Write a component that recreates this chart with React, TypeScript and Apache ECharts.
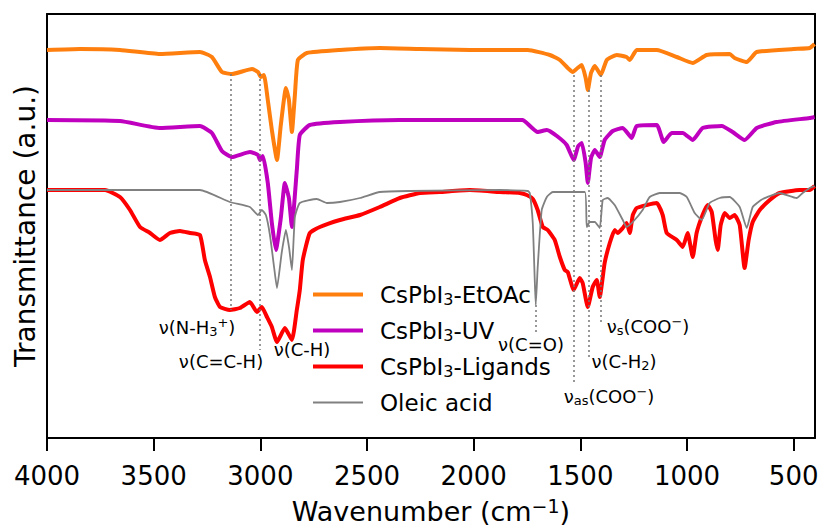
import React, { useEffect, useRef } from "react";
import * as echarts from "echarts";

const xTicks = [500, 1000, 1500, 2000, 2500, 3000, 3500, 4000];

const etoac: number[][] = [
[4000,388],[3845,389],[3658,388],[3471,384],[3283,386],[3227,381],[3180,366],[3133,364],[3039,369],[3011,366],[2997,361],[2983,363],[2965,338],[2946,308],[2922,278],[2904,313],[2880,350],[2866,338],[2852,306],[2838,343],[2824,378],[2782,385],[2627,388],[2440,390],[2252,389],[2018,388],[1878,388],[1746,388],[1643,383],[1596,378],[1559,370],[1535,366],[1513,370],[1493,373],[1475,360],[1465,348],[1450,365],[1432,372],[1404,363],[1376,378],[1329,383],[1283,381],[1268,378],[1236,388],[1142,388],[1048,381],[973,375],[908,383],[800,384],[777,380],[720,376],[673,386],[500,389],[425,390],[402,394]
];

const uv: number[][] = [
[4000,318],[3658,317],[3471,310],[3283,312],[3227,305],[3180,287],[3133,281],[3049,286],[3011,283],[3002,278],[2988,282],[2965,255],[2946,215],[2927,188],[2904,220],[2885,255],[2866,240],[2852,211],[2829,268],[2815,303],[2768,313],[2627,316],[2346,318],[1878,318],[1770,318],[1751,315],[1700,306],[1657,308],[1610,302],[1564,293],[1531,278],[1510,292],[1493,295],[1475,275],[1465,255],[1450,280],[1432,288],[1409,281],[1386,298],[1348,307],[1301,310],[1259,300],[1236,312],[1142,313],[1109,296],[1072,305],[1020,305],[973,298],[927,310],[837,312],[786,306],[730,298],[673,310],[580,316],[425,320],[402,321]
];

const ligands: number[][] = [
[4000,248],[3728,248],[3658,241],[3611,228],[3564,211],[3517,205],[3471,198],[3424,205],[3377,207],[3330,205],[3283,203],[3260,178],[3236,161],[3213,141],[3189,131],[3143,128],[3096,130],[3049,136],[3016,126],[2993,131],[2969,121],[2946,111],[2922,96],[2885,110],[2852,98],[2829,128],[2815,148],[2801,178],[2768,205],[2721,211],[2627,218],[2533,223],[2440,231],[2346,240],[2252,245],[2159,246],[2018,248],[1878,246],[1784,245],[1751,243],[1723,239],[1700,228],[1676,211],[1653,208],[1620,198],[1596,181],[1573,168],[1559,166],[1531,148],[1503,160],[1489,155],[1465,131],[1442,151],[1423,158],[1409,141],[1386,175],[1362,195],[1339,208],[1325,205],[1301,210],[1283,215],[1268,205],[1254,223],[1236,230],[1189,233],[1142,235],[1114,223],[1095,205],[1048,198],[1020,191],[997,205],[973,181],[955,205],[927,223],[903,233],[884,226],[866,198],[856,188],[842,213],[823,225],[800,220],[777,223],[753,213],[730,170],[711,198],[692,216],[659,228],[612,238],[566,245],[472,248],[425,248],[402,252]
];

const oleic: number[][] = [
[4000,248],[3283,248],[3143,236],[3049,231],[3011,223],[2993,228],[2974,223],[2955,203],[2935,170],[2922,150],[2900,185],[2880,208],[2865,190],[2852,168],[2838,221],[2815,235],[2735,239],[2688,235],[2627,236],[2533,240],[2440,246],[2299,247],[1878,248],[1746,247],[1737,245],[1723,215],[1714,160],[1709,133],[1700,170],[1681,228],[1657,241],[1629,246],[1479,246],[1470,211],[1456,216],[1432,216],[1409,210],[1395,238],[1372,240],[1339,233],[1301,218],[1283,211],[1254,216],[1208,228],[1175,241],[1128,245],[1034,245],[1001,241],[964,225],[931,218],[894,235],[847,240],[800,241],[753,231],[720,210],[692,231],[645,239],[566,245],[486,240],[458,245],[425,250],[402,252]
];

// vertical guide lines: [wavenumber, yTop, yBottom]
const guides: number[][] = [
[3140,364,128],[3005,364,88],[1532,363,53],[1461,348,81],[1402,363,116],[1708,133,106]
];

const seriesNames = ["CsPbI3-EtOAc", "CsPbI3-UV", "CsPbI3-Ligands", "Oleic acid"];
const seriesColors = ["#ff7f0e", "#bf00bf", "#ff0000", "#808080"];
const seriesWidths = [4, 4, 4, 1.8];
const legendIcons = [
  "path://M0,0L0.01,0L0,0.01ZM0,5h50v4h-50ZM0,14L0.01,14L0,13.99Z",
  "path://M0,0L0.01,0L0,0.01ZM0,5h50v4h-50ZM0,14L0.01,14L0,13.99Z",
  "path://M0,0L0.01,0L0,0.01ZM0,5h50v4h-50ZM0,14L0.01,14L0,13.99Z",
  "path://M0,0L0.01,0L0,0.01ZM0,6.1h50v1.8h-50ZM0,14L0.01,14L0,13.99Z",
];

// annotation labels: [text, x px, y px]
const annotations: [string, number, number][] = [
["ν(N-H{sub|3}{sup|+})", 197, 327],
["ν(C=C-H)", 221, 361],
["ν(C-H)", 302, 349],
["ν(C=O)", 531, 344],
["ν{sub|s}(COO{sup|−})", 648, 326],
["ν(C-H{sub|2})", 624, 361],
["ν{sub|as}(COO{sup|−})", 609, 396],
];

const FONT = "DejaVu Sans";

export default function App() {
  const ref = useRef<HTMLDivElement>(null);
  useEffect(() => {
    document.body.style.margin = "0";
    const chart = echarts.init(ref.current!, null, { renderer: "svg" });
    const datas = [etoac, uv, ligands, oleic];
    const annRich = {
      sub: { fontSize: 13, fontFamily: FONT, padding: [9, 0, 0, 0], fill: "#000" },
      sup: { fontSize: 13, fontFamily: FONT, padding: [0, 0, 9, 0], fill: "#000" },
    };
    const frameAxis = {
      axisLine: { show: true, lineStyle: { color: "#000", width: 2 } },
      axisTick: { show: false }, axisLabel: { show: false }, splitLine: { show: false },
    };
    const option: any = {
      animation: false,
      backgroundColor: "#fff",
      grid: { left: 47, right: 4, top: 14, bottom: 91, show: false, containLabel: false, outerBoundsMode: "none" },
      xAxis: [{
        type: "value", inverse: true, min: 400, max: 4000, position: "bottom",
        axisLine: { show: true, onZero: false, lineStyle: { color: "#000", width: 2 } },
        axisTick: { show: true, length: 13, lineStyle: { color: "#000", width: 2 }, customValues: xTicks },
        axisLabel: { fontSize: 26, fontFamily: FONT, color: "#000", margin: 25, customValues: xTicks,
          formatter: (v: number) => String(v) },
        splitLine: { show: false },
        name: "Wavenumber (cm{sup|−1})",
        nameLocation: "middle", nameGap: 58,
        nameTextStyle: { fontSize: 27, fontFamily: FONT, color: "#000",
          rich: { sup: { fontSize: 19, fontFamily: FONT, padding: [0, 0, 12, 0] } } },
      }, {
        type: "value", inverse: true, min: 400, max: 4000, position: "top", ...frameAxis,
        axisLine: { show: true, onZero: false, lineStyle: { color: "#000", width: 2 } },
      }],
      yAxis: [{
        type: "value", min: 0, max: 424, position: "left",
        axisLine: { show: true, onZero: false, lineStyle: { color: "#000", width: 2 } },
        axisTick: { show: false }, axisLabel: { show: false }, splitLine: { show: false },
        name: "Transmittance (a.u.)", nameLocation: "middle", nameGap: 8,
        nameTextStyle: { fontSize: 28, fontFamily: FONT, color: "#000", verticalAlign: "bottom" },
      }, {
        type: "value", min: 0, max: 424, position: "right", ...frameAxis,
        axisLine: { show: true, onZero: false, lineStyle: { color: "#000", width: 2 } },
      }],
      legend: {
        orient: "vertical", left: 308, top: 278, itemWidth: 50, itemHeight: 14, itemGap: 12,
        data: seriesNames.map((n, i) => ({ name: n, icon: legendIcons[i], itemStyle: { color: seriesColors[i] } })),
        formatter: (n: string) => n.replace("I3", "I{sub|3}"),
        textStyle: { fontSize: 23, fontFamily: FONT, color: "#000", padding: [0, 0, 0, 12],
          rich: { sub: { fontSize: 16, fontFamily: FONT, padding: [9, 0, 0, 0] } } },
      },
      series: datas.map((d, i) => ({
        type: "line", name: seriesNames[i], data: d, symbol: "none", smooth: 0.15,
        xAxisIndex: 0, yAxisIndex: 0,
        lineStyle: { color: seriesColors[i], width: seriesWidths[i], join: "round" },
        itemStyle: { color: seriesColors[i] },
        z: 2 + i,
        markLine: i === 3 ? {
          silent: true, symbol: "none", label: { show: false },
          lineStyle: { color: "#777", width: 1.5, type: [2, 3] },
          data: guides.map((g) => [{ coord: [g[0], g[1]] }, { coord: [g[0], g[2]] }]),
        } : undefined,
      })),
      graphic: annotations.map(([t, x, y]) => ({
        type: "text", x, y, silent: true,
        style: { text: t, fontSize: 18, fontFamily: FONT, fill: "#000", align: "center", verticalAlign: "middle", rich: annRich },
      })),
    };
    chart.setOption(option);
    return () => chart.dispose();
  }, []);
  return <div ref={ref} style={{ width: 819, height: 529, position: "absolute", left: 0, top: 0 }} />;
}
